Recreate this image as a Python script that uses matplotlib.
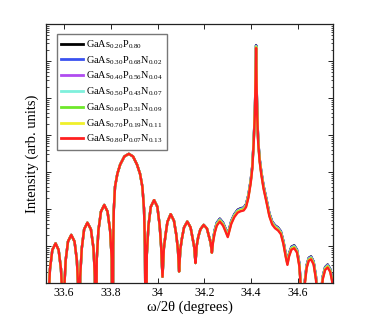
import numpy as np
import matplotlib
matplotlib.use("Agg")
import matplotlib.pyplot as plt
from matplotlib.ticker import LogLocator, NullFormatter

plt.rcParams['font.family'] = ['Liberation Serif', 'DejaVu Serif']
plt.rcParams['mathtext.fontset'] = 'custom'
plt.rcParams['mathtext.rm'] = 'Liberation Serif'
plt.rcParams['mathtext.it'] = 'Liberation Serif:italic'

# log10 intensity
# left part: all seven curves lie on top of each other
x_left = [33.524, 33.530, 33.534, 33.540, 33.550, 33.564, 33.577, 33.587, 33.593, 33.597,
          33.601, 33.607, 33.617, 33.631, 33.645, 33.655, 33.661, 33.665,
          33.669, 33.676, 33.686, 33.700, 33.715, 33.726, 33.732, 33.736,
          33.740, 33.747, 33.758, 33.772, 33.786, 33.797, 33.804, 33.808,
          33.810, 33.813, 33.818, 33.828, 33.840, 33.858, 33.877, 33.895, 33.912, 33.925,
          33.935, 33.942, 33.946, 33.950,
          33.954, 33.961, 33.971, 33.985, 33.999, 34.009, 34.015, 34.021,
          34.027, 34.034, 34.042, 34.056, 34.070, 34.080, 34.087, 34.092,
          34.097, 34.104, 34.113, 34.127, 34.141, 34.150, 34.157, 34.162,
          34.167, 34.174, 34.183, 34.197, 34.211, 34.220, 34.227, 34.232]
logI_left = [-3, -3, -0.39, 0.38, 0.89, 1.07, 0.89, 0.38, -0.39, -3,
             -0.16, 0.61, 1.12, 1.30, 1.12, 0.61, -0.16, -3,
             0.17, 0.94, 1.45, 1.63, 1.45, 0.94, 0.17, -3,
             0.65, 1.42, 1.93, 2.11, 1.93, 1.42, 0.65, -3,
             1.0, 2.0, 2.6, 2.95, 3.2, 3.42, 3.49, 3.42, 3.2, 2.95,
             2.6, 2.0, 1.0, -3,
             0.78, 1.55, 2.06, 2.24, 2.06, 1.55, 1.0, 0.17,
             0.95, 1.30, 1.65, 1.86, 1.68, 1.30, 0.90, 0.31,
             0.90, 1.20, 1.50, 1.66, 1.50, 1.20, 0.95, 0.54,
             1.00, 1.25, 1.45, 1.57, 1.47, 1.25, 1.08, 0.82]

# right part: substrate peak region (red curve)
x_right = [34.237, 34.244, 34.253, 34.266, 34.280, 34.290, 34.296, 34.300,
           34.306, 34.315, 34.328, 34.342, 34.355, 34.368, 34.378, 34.388, 34.398, 34.405,
           34.411, 34.416, 34.419, 34.421, 34.423, 34.426, 34.430, 34.436, 34.443, 34.453,
           34.465, 34.478, 34.490, 34.502, 34.515, 34.527, 34.538, 34.548, 34.555, 34.562,
           34.572, 34.584, 34.596, 34.606, 34.613, 34.620, 34.628, 34.637, 34.646, 34.656,
           34.667, 34.677, 34.684, 34.690, 34.697, 34.706, 34.716, 34.727, 34.738, 34.746,
           34.752]
logI_right = [1.10, 1.35, 1.55, 1.66, 1.55, 1.40, 1.30, 1.24,
              1.38, 1.60, 1.78, 1.90, 1.94, 1.96, 2.05, 2.30, 2.70, 3.10,
              3.80, 4.60, 5.50, 6.35, 5.40, 4.50, 3.80, 3.30, 2.95, 2.55,
              2.20, 1.80, 1.58, 1.48, 1.42, 1.32, 1.05, 0.70, 0.49, 0.72,
              0.90, 0.94, 0.82, 0.45, -0.20, -2.0, -0.10, 0.40, 0.60, 0.64,
              0.50, 0.10, -0.50, -2.0, -0.40, 0.10, 0.35, 0.42, 0.30, 0.05,
              -0.30]

labels = [r'$\mathrm{GaAs}_{0.20}\mathrm{P}_{0.80}$',
          r'$\mathrm{GaAs}_{0.30}\mathrm{P}_{0.68}\mathrm{N}_{0.02}$',
          r'$\mathrm{GaAs}_{0.40}\mathrm{P}_{0.56}\mathrm{N}_{0.04}$',
          r'$\mathrm{GaAs}_{0.50}\mathrm{P}_{0.43}\mathrm{N}_{0.07}$',
          r'$\mathrm{GaAs}_{0.60}\mathrm{P}_{0.31}\mathrm{N}_{0.09}$',
          r'$\mathrm{GaAs}_{0.70}\mathrm{P}_{0.19}\mathrm{N}_{0.11}$',
          r'$\mathrm{GaAs}_{0.80}\mathrm{P}_{0.07}\mathrm{N}_{0.13}$']
# how far each curve sits above the red one on the right side (decades)
right_lift = [0.08, 0.07, 0.06, 0.05, 0.035, 0.02, 0.0]
colors = ['#000000', '#3a52f0', '#b04cf0', '#7ff0dc', '#6ee82a', '#f0f02a', '#ff2020']

x_all = np.array(x_left + x_right)

fig = plt.figure(figsize=(3.68, 3.27), dpi=100)
ax = fig.add_axes([0.125, 0.1346, 0.78, 0.792])

for lab, lift, c in zip(labels, right_lift, colors):
    y = np.array(logI_left + [v + lift for v in logI_right])
    ax.plot(x_all, 10 ** y, color=c, lw=1.7, label=lab)

ax.set_yscale('log')
ax.set_xlim(33.523, 34.75)
ax.set_ylim(1, 1e7)
ax.yaxis.set_major_locator(LogLocator(base=10, numticks=20))
ax.yaxis.set_minor_locator(LogLocator(base=10, subs=np.arange(2, 10), numticks=20))
ax.yaxis.set_major_formatter(NullFormatter())
ax.yaxis.set_minor_formatter(NullFormatter())
ax.set_xticks([33.6, 33.8, 34.0, 34.2, 34.4, 34.6])
ax.set_xticklabels(['33.6', '33.8', '34', '34.2', '34.4', '34.6'])
ax.tick_params(which='both', direction='in', top=True, right=True, labelsize=8.5, pad=3)
ax.tick_params(which='major', length=3.5, width=0.6)
ax.tick_params(which='minor', length=1.8, width=0.5)
for s in ax.spines.values():
    s.set_linewidth(0.9)
    s.set_color('#222222')

ax.set_xlabel(r'ω/2θ (degrees)', fontsize=10.5, labelpad=1)
ax.set_ylabel('Intensity (arb. units)', fontsize=10.5, labelpad=2)

leg = ax.legend(loc='upper left', bbox_to_anchor=(0.038, 0.961), borderaxespad=0,
                fontsize=7.4, handlelength=2.15, handletextpad=0.25, labelspacing=0.32,
                borderpad=0.4, fancybox=False, framealpha=1)
leg.get_frame().set_edgecolor('#777777')
leg.get_frame().set_linewidth(1.0)
for line in leg.get_lines():
    line.set_linewidth(2.0)

fig.savefig('out.png', dpi=100)
